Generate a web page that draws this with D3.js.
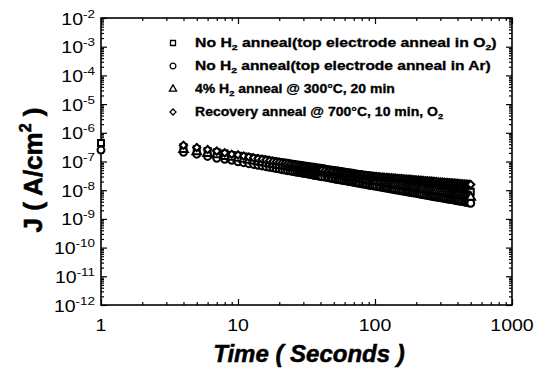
<!DOCTYPE html>
<html><head><meta charset="utf-8">
<script src="https://cdn.jsdelivr.net/npm/d3@7"></script>
<style>body{margin:0;background:#fff}svg{display:block}</style>
</head><body><svg id="c" width="541" height="372"></svg>
<script>
// ---- data ----
const timeSec = [1,4,5,6,7,8,9,10,11,12,13,14,15,16,17,18,19,20,
  21,22,23,24,25,26,27,28,29,30,31,32,33,34,35,36,37,38,39,40,41,
  43,45,46,48,49,51,52,54,55,57,59,61,63,65,67,69,71,73,75,77,
  80,82,85,87,90,92,95,97,100,
  103,107,110,114,117,121,124,128,132,136,140,145,150,155,160,165,170,175,180,185,190,196,
  202,208,214,220,227,235,242,250,257,265,272,280,290,300,
  310,320,330,340,350,360,370,380,390,400,
  412,425,437,450,462,475,487,500];
const noH2_O2 = [4.4e-7,3.2e-7,2.7e-7,2.3e-7,2.1e-7,1.9e-7,1.7e-7,1.6e-7,1.5e-7,1.4e-7,1.3e-7,1.25e-7,1.2e-7,1.14e-7,1.09e-7,1.04e-7,1.0e-7,9.6e-8,
  9.3e-8,9.0e-8,8.7e-8,8.4e-8,8.2e-8,7.9e-8,7.7e-8,7.5e-8,7.3e-8,7.1e-8,7.0e-8,6.8e-8,6.6e-8,6.5e-8,6.4e-8,6.2e-8,6.1e-8,6.0e-8,5.9e-8,5.8e-8,5.7e-8,
  5.5e-8,5.3e-8,5.2e-8,5.05e-8,5.0e-8,4.82e-8,4.75e-8,4.62e-8,4.56e-8,4.44e-8,4.33e-8,4.23e-8,4.12e-8,4.03e-8,3.94e-8,3.85e-8,3.78e-8,3.70e-8,3.62e-8,3.56e-8,
  3.46e-8,3.39e-8,3.30e-8,3.24e-8,3.17e-8,3.11e-8,3.04e-8,2.99e-8,2.93e-8,
  2.86e-8,2.79e-8,2.74e-8,2.66e-8,2.61e-8,2.55e-8,2.50e-8,2.44e-8,2.38e-8,2.33e-8,2.29e-8,2.23e-8,2.17e-8,2.12e-8,2.07e-8,2.03e-8,1.98e-8,1.94e-8,1.90e-8,1.86e-8,1.82e-8,1.78e-8,
  1.74e-8,1.71e-8,1.67e-8,1.64e-8,1.60e-8,1.56e-8,1.52e-8,1.49e-8,1.46e-8,1.43e-8,1.40e-8,1.37e-8,1.33e-8,1.30e-8,
  1.27e-8,1.24e-8,1.21e-8,1.19e-8,1.16e-8,1.14e-8,1.11e-8,1.09e-8,1.07e-8,1.05e-8,
  1.03e-8,1.0e-8,9.9e-9,9.6e-9,9.4e-9,9.3e-9,9.1e-9,8.9e-9];
const noH2_Ar = [2.5e-7,2.1e-7,1.8e-7,1.5e-7,1.3e-7,1.2e-7,1.1e-7,9.8e-8,9.1e-8,8.4e-8,7.9e-8,7.4e-8,7.0e-8,6.6e-8,6.3e-8,6.0e-8,5.7e-8,5.5e-8,
  5.2e-8,5.0e-8,4.8e-8,4.7e-8,4.5e-8,4.4e-8,4.2e-8,4.1e-8,4.0e-8,3.9e-8,3.8e-8,3.7e-8,3.6e-8,3.5e-8,3.4e-8,3.3e-8,3.24e-8,3.16e-8,3.09e-8,3.03e-8,2.96e-8,
  2.85e-8,2.74e-8,2.69e-8,2.59e-8,2.55e-8,2.46e-8,2.42e-8,2.35e-8,2.31e-8,2.24e-8,2.18e-8,2.12e-8,2.06e-8,2.0e-8,1.95e-8,1.91e-8,1.86e-8,1.82e-8,1.77e-8,1.74e-8,
  1.68e-8,1.64e-8,1.60e-8,1.56e-8,1.52e-8,1.49e-8,1.45e-8,1.43e-8,1.39e-8,
  1.36e-8,1.31e-8,1.28e-8,1.24e-8,1.22e-8,1.18e-8,1.16e-8,1.13e-8,1.10e-8,1.07e-8,1.04e-8,1.01e-8,9.9e-9,9.6e-9,9.3e-9,9.1e-9,8.9e-9,8.6e-9,8.5e-9,8.2e-9,8.1e-9,7.9e-9,
  7.7e-9,7.5e-9,7.3e-9,7.1e-9,6.9e-9,6.7e-9,6.6e-9,6.4e-9,6.2e-9,6.1e-9,5.9e-9,5.8e-9,5.6e-9,5.5e-9,
  5.3e-9,5.2e-9,5.0e-9,4.9e-9,4.8e-9,4.7e-9,4.6e-9,4.5e-9,4.4e-9,4.3e-9,
  4.2e-9,4.1e-9,4.0e-9,3.9e-9,3.8e-9,3.7e-9,3.6e-9,3.5e-9];
const h2Anneal300 = [null,2.6e-7,2.2e-7,1.9e-7,1.7e-7,1.5e-7,1.4e-7,1.3e-7,1.2e-7,1.1e-7,1.03e-7,9.7e-8,9.2e-8,8.8e-8,8.4e-8,8.0e-8,7.7e-8,7.3e-8,
  7.1e-8,6.8e-8,6.6e-8,6.4e-8,6.2e-8,6.0e-8,5.8e-8,5.6e-8,5.5e-8,5.3e-8,5.2e-8,5.1e-8,4.9e-8,4.8e-8,4.7e-8,4.6e-8,4.5e-8,4.4e-8,4.3e-8,4.25e-8,4.16e-8,
  4.0e-8,3.87e-8,3.8e-8,3.67e-8,3.61e-8,3.5e-8,3.45e-8,3.35e-8,3.3e-8,3.21e-8,3.12e-8,3.04e-8,2.96e-8,2.89e-8,2.82e-8,2.75e-8,2.70e-8,2.64e-8,2.58e-8,2.53e-8,
  2.45e-8,2.40e-8,2.34e-8,2.29e-8,2.23e-8,2.19e-8,2.14e-8,2.10e-8,2.06e-8,
  2.01e-8,1.95e-8,1.91e-8,1.85e-8,1.82e-8,1.77e-8,1.73e-8,1.69e-8,1.65e-8,1.61e-8,1.57e-8,1.53e-8,1.49e-8,1.45e-8,1.42e-8,1.38e-8,1.35e-8,1.32e-8,1.29e-8,1.26e-8,1.24e-8,1.21e-8,
  1.18e-8,1.15e-8,1.12e-8,1.10e-8,1.07e-8,1.04e-8,1.02e-8,9.9e-9,9.7e-9,9.5e-9,9.3e-9,9.1e-9,8.9e-9,8.6e-9,
  8.4e-9,8.2e-9,8.0e-9,7.8e-9,7.6e-9,7.4e-9,7.3e-9,7.1e-9,7.0e-9,6.9e-9,
  6.7e-9,6.5e-9,6.4e-9,6.3e-9,6.1e-9,6.0e-9,5.9e-9,5.7e-9];
const recovery700 = [null,3.7e-7,3.1e-7,2.6e-7,2.3e-7,2.0e-7,1.8e-7,1.7e-7,1.55e-7,1.44e-7,1.34e-7,1.26e-7,1.19e-7,1.12e-7,1.06e-7,1.01e-7,9.7e-8,9.2e-8,
  8.9e-8,8.5e-8,8.2e-8,7.9e-8,7.6e-8,7.4e-8,7.1e-8,6.9e-8,6.7e-8,6.5e-8,6.3e-8,6.2e-8,6.0e-8,5.8e-8,5.7e-8,5.6e-8,5.4e-8,5.3e-8,5.2e-8,5.1e-8,5.0e-8,
  4.8e-8,4.6e-8,4.5e-8,4.35e-8,4.3e-8,4.1e-8,4.06e-8,3.93e-8,3.86e-8,3.78e-8,3.72e-8,3.67e-8,3.63e-8,3.58e-8,3.54e-8,3.50e-8,3.46e-8,3.42e-8,3.38e-8,3.35e-8,
  3.30e-8,3.27e-8,3.22e-8,3.18e-8,3.15e-8,3.12e-8,3.08e-8,3.05e-8,3.01e-8,
  2.98e-8,2.94e-8,2.90e-8,2.86e-8,2.83e-8,2.79e-8,2.77e-8,2.73e-8,2.70e-8,2.67e-8,2.64e-8,2.60e-8,2.56e-8,2.53e-8,2.50e-8,2.47e-8,2.44e-8,2.41e-8,2.38e-8,2.36e-8,2.33e-8,2.30e-8,
  2.28e-8,2.25e-8,2.22e-8,2.20e-8,2.17e-8,2.14e-8,2.12e-8,2.09e-8,2.07e-8,2.04e-8,2.02e-8,2.0e-8,1.97e-8,1.94e-8,
  1.92e-8,1.89e-8,1.87e-8,1.85e-8,1.83e-8,1.81e-8,1.79e-8,1.77e-8,1.75e-8,1.73e-8,
  1.71e-8,1.69e-8,1.67e-8,1.65e-8,1.63e-8,1.61e-8,1.60e-8,1.58e-8];
const legendLabels = [
  ["No H", "2", " anneal(top electrode anneal in O", "2", ")"],
  ["No H", "2", " anneal(top electrode anneal in Ar)"],
  ["4% H", "2", " anneal @ 300°C, 20 min"],
  ["Recovery anneal @ 700°C, 10 min, O", "2"]
];
const xTickValues = [1,10,100,1000];
const xTickLabels = ["1","10","100","1000"];
const yTickExponents = [-2,-3,-4,-5,-6,-7,-8,-9,-10,-11,-12];
const xTitle = "Time ( Seconds )";

// ---- layout ----
const L=101, R=512, T=18, B=305;
const FONT = "'Liberation Sans', Arial, sans-serif";
const svg = d3.select("#c");
const x = d3.scaleLog().domain([1,1000]).range([L,R]);
const y = d3.scaleLog().domain([1e-12,1e-2]).range([B,T]);

const xMinor = [];
[1,10,100].forEach(d=>{for(let m=2;m<=9;m++) xMinor.push(d*m);});
const yMajor = yTickExponents.map(e=>Math.pow(10,e));
const yMinor = [];
yTickExponents.filter(e=>e<-2).forEach(e=>{for(let m=2;m<=9;m++) yMinor.push(m*Math.pow(10,e));});

function axisGroup(gen, transform){
  const g = svg.append("g").attr("transform",transform).call(gen);
  g.select(".domain").remove();
  g.selectAll("line").attr("stroke","#000").attr("stroke-width",1.2);
  g.selectAll("text").remove();
  return g;
}
// inward ticks on all four sides
axisGroup(d3.axisBottom(x).tickValues(xTickValues).tickSize(-6), `translate(0,${B})`);
axisGroup(d3.axisBottom(x).tickValues(xMinor).tickSize(-3), `translate(0,${B})`);
axisGroup(d3.axisTop(x).tickValues(xTickValues).tickSize(-6), `translate(0,${T})`);
axisGroup(d3.axisTop(x).tickValues(xMinor).tickSize(-3), `translate(0,${T})`);
axisGroup(d3.axisLeft(y).tickValues(yMajor).tickSize(-6), `translate(${L},0)`);
axisGroup(d3.axisLeft(y).tickValues(yMinor).tickSize(-3), `translate(${L},0)`);
axisGroup(d3.axisRight(y).tickValues(yMajor).tickSize(-6), `translate(${R},0)`);
axisGroup(d3.axisRight(y).tickValues(yMinor).tickSize(-3), `translate(${R},0)`);

svg.append("rect").attr("x",L).attr("y",T).attr("width",R-L).attr("height",B-T)
  .attr("fill","none").attr("stroke","#000").attr("stroke-width",1.6);

// x tick labels
xTickValues.forEach((v,i)=>{
  svg.append("g").attr("transform",`translate(${x(v)},331) scale(1.22,1)`)
    .append("text").attr("text-anchor","middle").attr("font-family",FONT)
    .attr("font-size",16).attr("fill","#000").text(xTickLabels[i]);
});
// y tick labels 10^e
yTickExponents.forEach(e=>{
  const t = svg.append("g").attr("transform",`translate(95,${y(Math.pow(10,e))+6.5}) scale(1.22,1)`)
    .append("text").attr("text-anchor","end").attr("font-family",FONT).attr("fill","#000");
  t.append("tspan").attr("font-size",16).text("10");
  t.append("tspan").attr("font-size",11).attr("dy",-7).text(String(e));
});

// axis titles
const yt = svg.append("text").attr("transform","translate(42,170) rotate(-90)")
  .attr("text-anchor","middle").attr("font-family",FONT).attr("font-weight","bold")
  .attr("font-size",26).attr("fill","#000").attr("stroke","#000").attr("stroke-width",0.6);
yt.append("tspan").text("J ( A/cm");
yt.append("tspan").attr("font-size",16).attr("dy",-11).text("2");
yt.append("tspan").attr("dy",11).text(" )");

svg.append("text").attr("x",309).attr("y",362).attr("text-anchor","middle")
  .attr("font-family",FONT).attr("font-weight","bold").attr("font-style","italic")
  .attr("font-size",24).attr("fill","#000").attr("stroke","#000").attr("stroke-width",0.5)
  .text(xTitle);

// series
const series = [
  {vals: noH2_O2, sym: d3.symbolSquare, size: 36, rot: 0},
  {vals: noH2_Ar, sym: d3.symbolCircle, size: 38, rot: 0},
  {vals: h2Anneal300, sym: d3.symbolTriangle, size: 32, rot: 0},
  {vals: recovery700, sym: d3.symbolSquare, size: 26, rot: 45}
];
series.forEach(s=>{
  const pts = timeSec.map((t,i)=>({t, v:s.vals[i]})).filter(d=>d.v!=null);
  svg.append("g").selectAll("path").data(pts).join("path")
    .attr("d", d3.symbol().type(s.sym).size(s.size))
    .attr("transform", d=>`translate(${x(d.t)},${y(d.v)}) rotate(${s.rot})`)
    .attr("fill","#fff").attr("stroke","#000").attr("stroke-width",2.0);
});

// legend
const legendY = [43,66,89,112];
const legendWidths = [302,296,200,249];
series.forEach((s,i)=>{
  svg.append("path").attr("d", d3.symbol().type(s.sym).size(s.size*0.7))
    .attr("transform",`translate(173,${legendY[i]}) rotate(${s.rot})`)
    .attr("fill","#fff").attr("stroke","#000").attr("stroke-width",1.3);
  const g = svg.append("g").attr("transform",`translate(195,${legendY[i]+4})`);
  const tx = g.append("text").attr("font-family",FONT).attr("font-weight","bold")
    .attr("font-size",12).attr("fill","#000").attr("stroke","#000").attr("stroke-width",0.3);
  legendLabels[i].forEach((part,j)=>{
    const sub = j%2===1;
    const ts = tx.append("tspan").text(part);
    if(sub) ts.attr("font-size",8).attr("dy",3);
    else if(j>0) ts.attr("dy",-3);
  });
  const w = tx.node().getBBox().width || legendWidths[i];
  g.attr("transform",`translate(195,${legendY[i]+4}) scale(${legendWidths[i]/w},1)`);
});
</script>
</body></html>
